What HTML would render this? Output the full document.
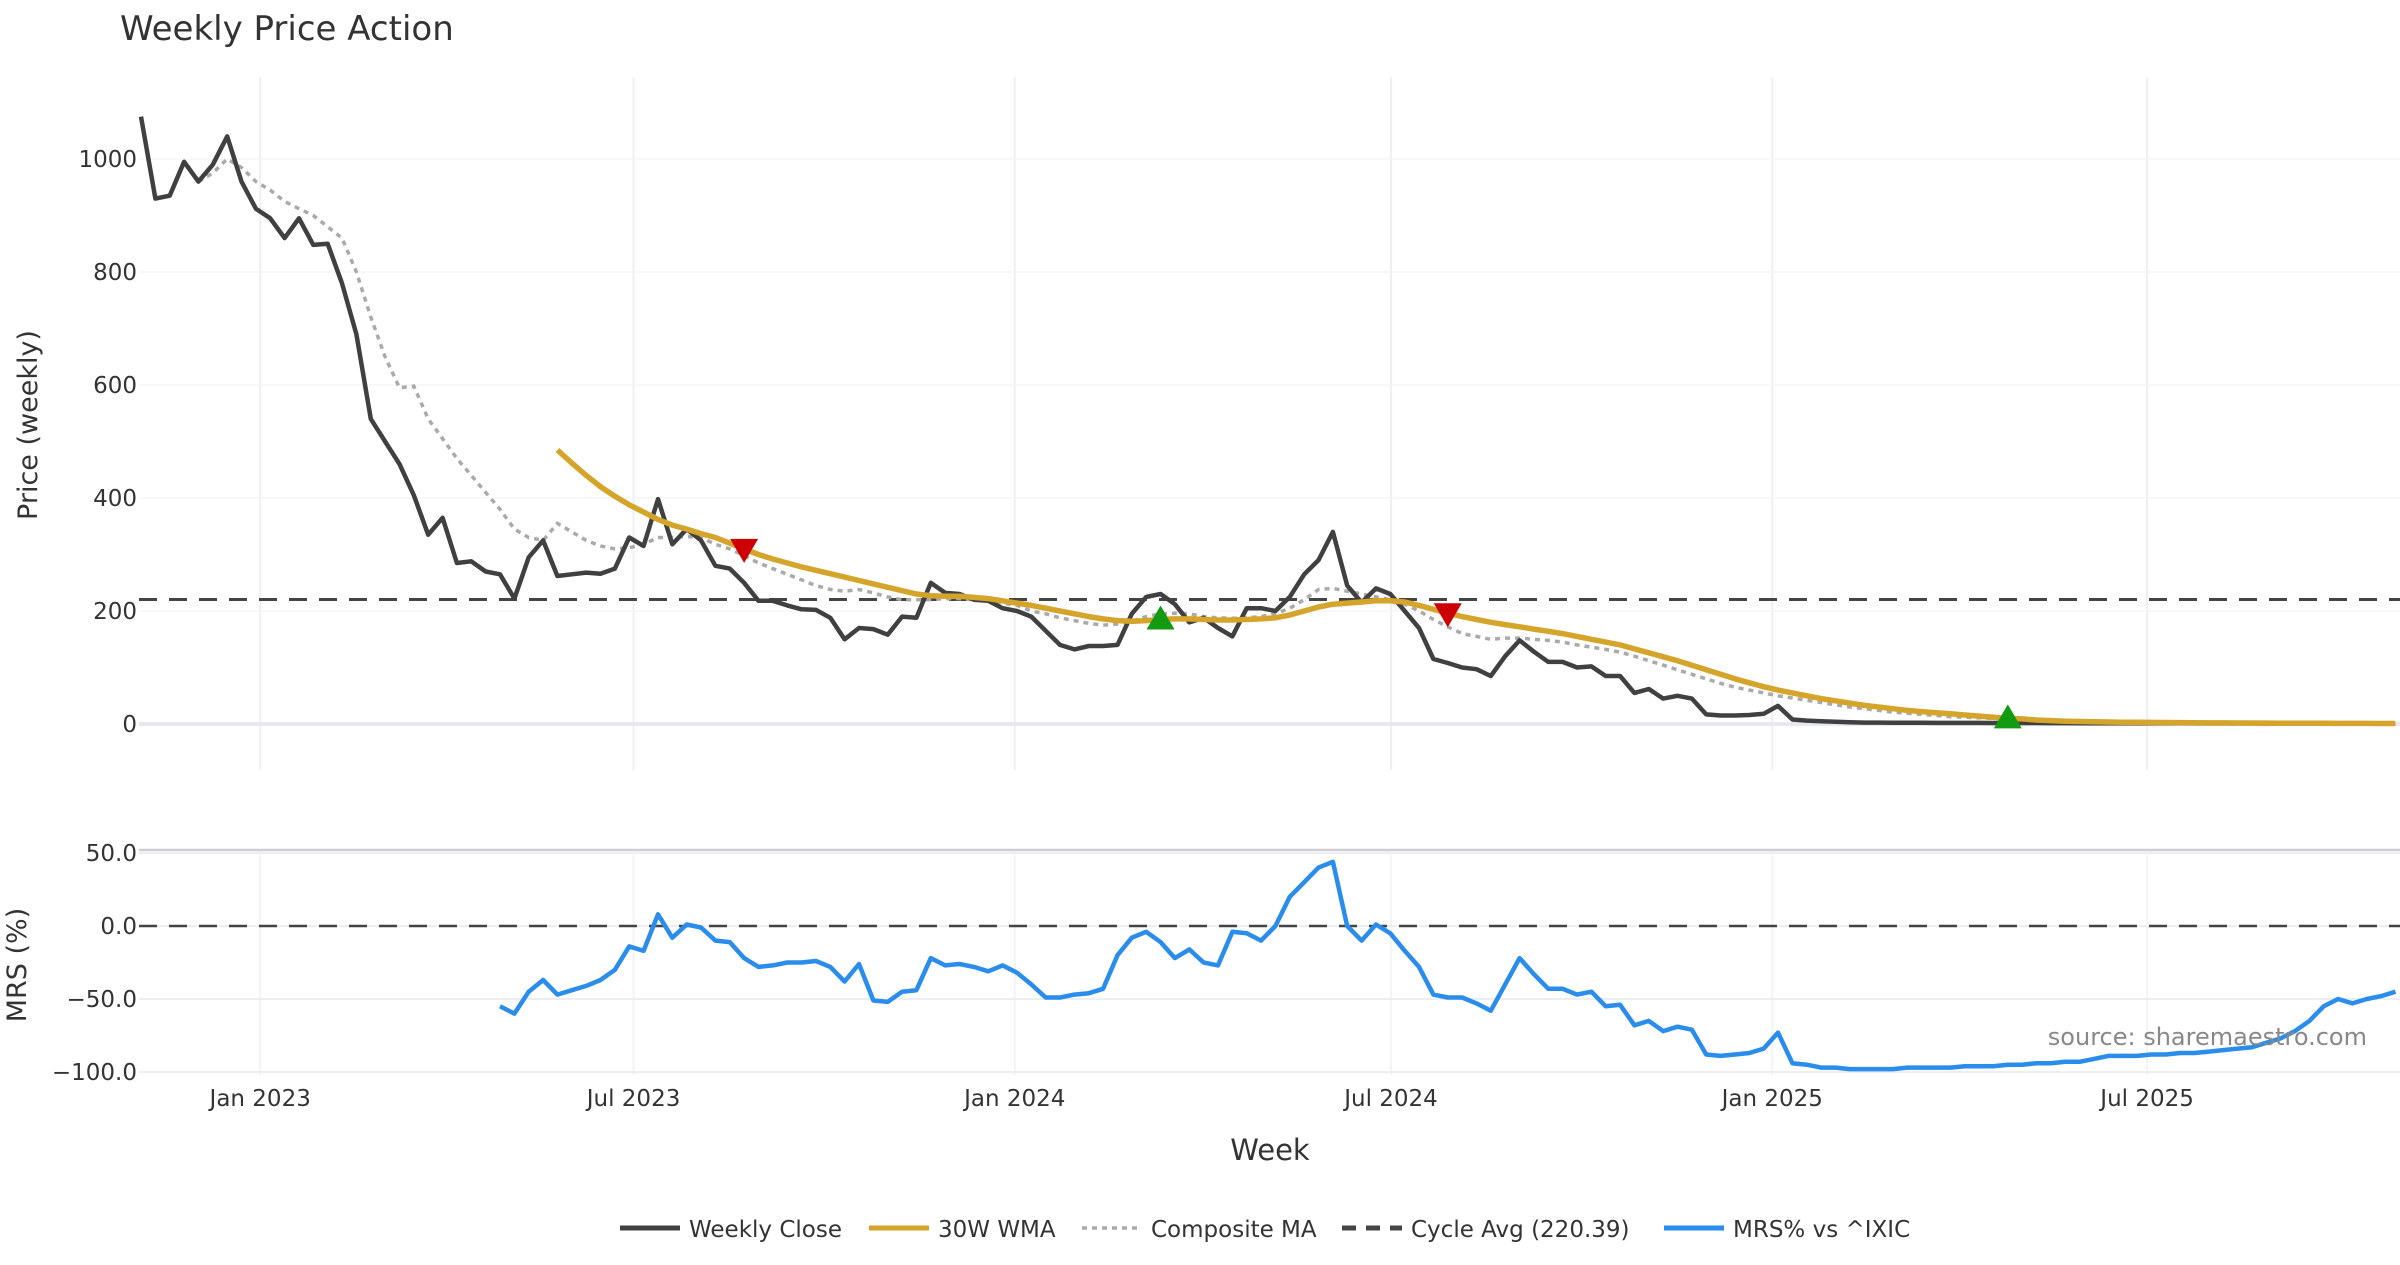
<!DOCTYPE html>
<html><head><meta charset="utf-8"><title>Weekly Price Action</title>
<style>
html,body{margin:0;padding:0;background:#fff;}
body{width:2400px;height:1260px;overflow:hidden;font-family:"Liberation Sans","DejaVu Sans",sans-serif;}
svg text{font-family:"DejaVu Sans","Liberation Sans",sans-serif;}
</style></head>
<body>
<svg id="chart" width="2400" height="1260" viewBox="0 0 2400 1260" xmlns="http://www.w3.org/2000/svg">
<text x="120" y="40" font-size="34" fill="#333">Weekly Price Action</text>
<g id="grid"></g>
<g id="series"></g>
<g id="axes"></g>
<text transform="translate(37,425) rotate(-90)" text-anchor="middle" font-size="27" fill="#333">Price (weekly)</text>
<text transform="translate(26,965) rotate(-90)" text-anchor="middle" font-size="27" fill="#333">MRS (%)</text>
<text x="1270" y="1160" text-anchor="middle" font-size="29" fill="#333">Week</text>
<text x="2367" y="1045" text-anchor="end" font-size="24" fill="#888">source: sharemaestro.com</text>
<g id="legend"></g>
</svg>
<script>
const close = [1075,930,935,995,960,990,1040,960,912,895,860,895,848,850,780,690,540,500,460,405,335,365,285,288,270,265,222,295,325,262,265,268,266,275,330,315,398,318,345,325,280,275,250,218,218,210,203,202,188,150,170,168,158,190,188,250,232,230,220,218,205,200,190,165,140,132,138,138,140,195,225,230,212,180,188,170,155,205,205,200,225,265,290,340,245,215,240,230,200,170,115,108,100,97,85,120,148,128,110,110,100,102,85,85,55,62,45,50,45,17,15,15,16,18,32,8,6,5,4,3,2.5,2.4,2.3,2.2,2.1,2,2,1.9,1.9,1.8,1.8,1.7,1.7,1.6,1.6,1.5,1.5,1.4,1.4,1.3,1.3,1.2,1.2,1.1,1.1,1,1,1,0.9,0.9,0.9,0.8,0.8,0.8,0.7,0.7,0.7,0.6];
const wmaStart = 29;
const wma = [485,462,440,420,403,388,375,362,352,345,337,330,320,310,300,292,285,278,272,266,260,254,248,242,236,230,227,226,226,224,222,218,214,210,205,200,195,190,186,183,182,183,185,186,186,185,184,184,185,186,188,193,200,207,212,214,216,218,218,216,210,203,196,190,185,180,176,172,168,164,160,155,150,145,140,133,126,119,112,104,96,88,80,73,66,60,55,50,45,41,37,33,30,27,24,22,20,18,16,14,12,10,9,7,6,5,4.5,4,3.5,3,3,2.8,2.6,2.4,2.2,2,1.9,1.8,1.7,1.6,1.5,1.4,1.3,1.2,1.1,1.0,1.0,0.9,0.9];
const compStart = 4;
const composite = [960,975,1000,985,960,945,925,912,900,880,860,800,720,650,595,598,540,505,470,440,410,380,345,330,325,355,340,325,315,310,312,318,330,330,332,330,318,310,298,285,275,265,255,245,238,235,238,232,225,220,220,220,222,222,220,218,214,210,200,195,188,183,178,175,177,182,190,195,196,195,190,188,187,188,190,195,205,220,238,240,235,230,225,220,212,200,185,172,160,155,150,152,152,150,148,145,140,136,132,127,120,112,104,96,88,80,72,65,60,55,50,46,42,38,34,30,27,24,21,19,17,15,13,12,11,10,9,8,7,6,5,4.5,4,3.5,3,3,2.8,2.6,2.4,2.2,2,1.9,1.8,1.7,1.6,1.5,1.4,1.3,1.2,1.1,1.0,1.0,0.9,0.9];
const mrsStart = 25;
const mrs = [-55,-60,-45,-37,-47,-44,-41,-37,-30,-14,-17,8,-8,1,-1,-10,-11,-22,-28,-27,-25,-25,-24,-28,-38,-26,-51,-52,-45,-44,-22,-27,-26,-28,-31,-27,-32,-40,-49,-49,-47,-46,-43,-20,-8,-4,-11,-22,-16,-25,-27,-4,-5,-10,0,20,30,40,44,0,-10,1,-5,-17,-28,-47,-49,-49,-53,-58,-40,-22,-33,-43,-43,-47,-45,-55,-54,-68,-65,-72,-69,-71,-88,-89,-88,-87,-84,-73,-94,-95,-97,-97,-98,-98,-98,-98,-97,-97,-97,-97,-96,-96,-96,-95,-95,-94,-94,-93,-93,-91,-89,-89,-89,-88,-88,-87,-87,-86,-85,-84,-83,-80,-77,-72,-65,-55,-50,-53,-50,-48,-45];
const cycleAvg = 220.39;
const sellSignals = [42, 91];
const buySignals = [71, 130];
const priceTicks = [0,200,400,600,800,1000];
const mrsTicks = [50,0,-50,-100];
const mrsTickLabels = ["50.0","0.0","\u221250.0","\u2212100.0"];
const dateTicks = [8.3,34.3,60.85,87.05,113.6,139.7];
const dateTickLabels = ["Jan 2023","Jul 2023","Jan 2024","Jul 2024","Jan 2025","Jul 2025"];

const NS="http://www.w3.org/2000/svg";
const X0=141, DX=14.36;
const xs = i => X0 + DX*i;
const yp = v => 724 - v*0.565;
const ym = v => 926 - v*1.46;
function mk(tag, attrs, parent){const e=document.createElementNS(NS,tag);for(const k in attrs)e.setAttribute(k,attrs[k]);document.getElementById(parent).appendChild(e);return e;}

dateTicks.forEach((t,k)=>{
  let g=mk('line',{x1:xs(t),x2:xs(t),y1:77,y2:770,stroke:'#eef0f3','stroke-width':2},'grid');
  
  
  let g2=mk('line',{x1:xs(t),x2:xs(t),y1:855,y2:1075,stroke:'#f3f4f6','stroke-width':2},'grid');
  
  
  let tl=mk('text',{x:xs(t),y:1106,'text-anchor':'middle','font-size':23,fill:'#333'},'axes');
  tl.textContent=dateTickLabels[k];
  
  
});
priceTicks.forEach(v=>{
  let g=mk('line',{x1:139,x2:2400,y1:yp(v),y2:yp(v),stroke:v===0?'#e6eaee':'#f5f6f8','stroke-width':v===0?4:1.5},'grid');
  
  
  let tl=mk('text',{x:137,y:yp(v)+8,'text-anchor':'end','font-size':23,fill:'#333'},'axes');
  tl.textContent=String(v);
  
  
});
let border=mk('line',{x1:139,x2:2400,y1:850,y2:850,stroke:'#d0d0d0','stroke-width':2.5},'grid');


mrsTicks.forEach((v,k)=>{
  let g=mk('line',{x1:139,x2:2400,y1:ym(v),y2:ym(v),stroke:'#eceef1','stroke-width':2},'grid');
  
  
  let tl=mk('text',{x:137,y:ym(v)+8,'text-anchor':'end','font-size':23,fill:'#333'},'axes');
  tl.textContent=mrsTickLabels[k];
  
  
});

function path(vals,start,yf){return vals.map((v,j)=>(j?'L':'M')+xs(start+j).toFixed(1)+' '+yf(v).toFixed(1)).join(' ');}

let ca=mk('line',{x1:139,x2:2400,y1:yp(cycleAvg),y2:yp(cycleAvg),stroke:'#444','stroke-width':3,'stroke-dasharray':'18 12'},'series');


let cp=mk('path',{d:path(composite,compStart,yp),fill:'none',stroke:'#aaaaaa','stroke-width':3.5,'stroke-dasharray':'5 5'},'series');


let cl=mk('path',{d:path(close,0,yp),fill:'none',stroke:'#404040','stroke-width':4.5,'stroke-linejoin':'round'},'series');


let wl=mk('path',{d:path(wma,wmaStart,yp),fill:'none',stroke:'#d4a52a','stroke-width':5.5,'stroke-linejoin':'round'},'series');


sellSignals.forEach(i=>{
  const x=xs(i), y=yp(wma[i-wmaStart]);
  let t=mk('polygon',{points:`${x-14},${y-10} ${x+14},${y-10} ${x},${y+14}`,fill:'#cc0000'},'series');
  
  
});
buySignals.forEach(i=>{
  const x=xs(i), y=yp(wma[i-wmaStart]);
  let t=mk('polygon',{points:`${x-14},${y+10} ${x+14},${y+10} ${x},${y-14}`,fill:'#129a12'},'series');
  
  
});
let z=mk('line',{x1:139,x2:2400,y1:ym(0),y2:ym(0),stroke:'#444','stroke-width':2.5,'stroke-dasharray':'18 12'},'series');


let ml=mk('path',{d:path(mrs,mrsStart,ym),fill:'none',stroke:'#2a8ceb','stroke-width':4.5,'stroke-linejoin':'round'},'series');



const legItems=[["Weekly Close","#404040","",620],["30W WMA","#d4a52a","",869],["Composite MA","#aaaaaa","5 5",1082],["Cycle Avg (220.39)","#444","14 10",1342],["MRS% vs ^IXIC","#2a8ceb","",1664]];
legItems.forEach(it=>{
  let l=mk('line',{x1:it[3],x2:it[3]+60,y1:1228,y2:1228,stroke:it[1],'stroke-width':it[0]==='Composite MA'?3.5:5,'stroke-dasharray':it[2]},'legend');
  
  
  let t=mk('text',{x:it[3]+69,y:1237,'font-size':23,fill:'#333'},'legend');
  t.textContent=it[0];
  
  
});
</script>
</body></html>
